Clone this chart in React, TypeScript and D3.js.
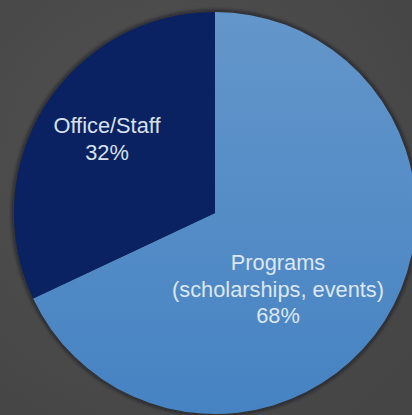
import React from "react";
import * as d3 from "d3";

const categories = ["Programs", "Office/Staff"];
const values = [68, 32];
const labelLines = [["Programs", "(scholarships, events)", "68%"], ["Office/Staff", "32%"]];
const colors = ["#5590cb", "#0a2262"];

const W = 412;
const H = 415;
const cx = 215;
const cy = 213;
const R = 201;

export default function App() {
  const pie = d3.pie<number>().sort(null).value((d) => d);
  const arcs = pie(values);
  const arc = d3.arc<d3.PieArcDatum<number>>().innerRadius(0).outerRadius(R);
  const labelPos = [
    { x: 278, y: 270 },
    { x: 107, y: 133 },
  ];
  return (
    <svg
      width={W}
      height={H}
      style={{ position: "absolute", left: 0, top: 0 }}
      xmlns="http://www.w3.org/2000/svg"
    >
      <defs>
        <radialGradient id="bg" cx="40%" cy="40%" r="75%">
          <stop offset="0%" stopColor="#525252" />
          <stop offset="100%" stopColor="#454545" />
        </radialGradient>
        <linearGradient id="blue" x1="0" y1="0" x2="0" y2="1">
          <stop offset="0%" stopColor="#6396ca" />
          <stop offset="100%" stopColor="#4683c3" />
        </linearGradient>
        <filter id="shadow" x="-10%" y="-10%" width="120%" height="120%">
          <feGaussianBlur stdDeviation="2" />
        </filter>
      </defs>
      <rect width={W} height={H} fill="url(#bg)" />
      <circle cx={cx} cy={cy} r={R + 1.5} fill="rgba(15,15,25,0.7)" filter="url(#shadow)" />
      <g transform={`translate(${cx},${cy})`}>
        {arcs.map((a, i) => (
          <path key={categories[i]} d={arc(a) || ""} fill={i === 0 ? "url(#blue)" : colors[i]} />
        ))}
      </g>
      {labelLines.map((lines, i) => (
        <text
          key={categories[i]}
          x={labelPos[i].x}
          y={labelPos[i].y}
          textAnchor="middle"
          fill={i === 0 ? "#dde7f3" : "#d8e1ef"}
          fontFamily="Liberation Sans, Arial, sans-serif"
          fontSize={21.8}
        >
          {lines.map((l, j) => (
            <tspan key={j} x={labelPos[i].x} dy={j === 0 ? 0 : 26.5}>
              {l}
            </tspan>
          ))}
        </text>
      ))}
    </svg>
  );
}
